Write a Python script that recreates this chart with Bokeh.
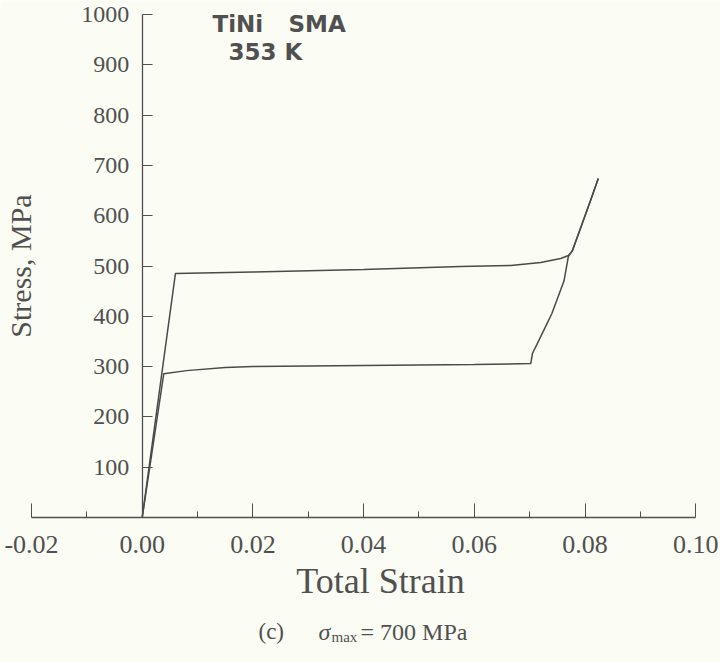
from bokeh.plotting import figure
from bokeh.models import LinearAxis, FixedTicker, Label, Range1d
from bokeh.embed import file_html
from bokeh.resources import INLINE

# ---- data ----
load_strain = [0.0, 0.0060, 0.0200, 0.0400, 0.0575, 0.0666, 0.0720, 0.0756, 0.0770, 0.0777, 0.0810, 0.0824]
load_stress = [0, 485, 488, 493, 499, 501, 507, 515, 521, 530, 630, 674]

unload_strain = [0.0824, 0.0810, 0.0777, 0.0770, 0.0762, 0.0740, 0.0718, 0.0705, 0.0702,
                 0.0600, 0.0400, 0.0200, 0.0150, 0.0080, 0.0039, 0.0]
unload_stress = [674, 630, 530, 519, 470, 405, 355, 326, 306,
                 304, 302, 300, 298, 292, 286, 0]

x_ticks = [-0.02, 0.00, 0.02, 0.04, 0.06, 0.08, 0.10]
x_tick_labels = ["-0.02", "0.00", "0.02", "0.04", "0.06", "0.08", "0.10"]
x_minor_ticks = [-0.01, 0.01, 0.03, 0.05, 0.07, 0.09]
y_ticks = [100, 200, 300, 400, 500, 600, 700, 800, 900, 1000]
y_tick_labels = ["100", "200", "300", "400", "500", "600", "700", "800", "900", "1000"]

# ---- layout geometry (pixels) ----
W, H = 720, 662
X0_PX, Y0_PX = 141.7, 517.0        # where strain 0 / stress 0 sit
PX_PER_STRAIN = 5535.0
PX_PER_MPA = 0.503

def sx(px):
    return (px - X0_PX) / PX_PER_STRAIN

def sy(py):
    return (Y0_PX - py) / PX_PER_MPA

BG = "#fbfcf4"
INK = "#505050"
SERIF = "Liberation Serif"
SANS = "DejaVu Sans"

p = figure(width=W, height=H, output_backend="svg", toolbar_location=None,
           x_range=Range1d(sx(0), sx(W)), y_range=Range1d(sy(H), sy(0)),
           x_axis_location=None, y_axis_location=None,
           min_border_left=0, min_border_right=0, min_border_top=0, min_border_bottom=0)
p.background_fill_color = BG
p.border_fill_color = BG
p.outline_line_color = None
p.grid.visible = False

# bottom axis placed at stress = 0
xa = LinearAxis(fixed_location=0, bounds=(-0.02, 0.10))
xa.ticker = FixedTicker(ticks=x_ticks, minor_ticks=x_minor_ticks)
xa.major_label_overrides = {t: l for t, l in zip(x_ticks, x_tick_labels)}
xa.major_tick_in = 14
xa.major_tick_out = 0
xa.minor_tick_in = 6
xa.minor_tick_out = 0
xa.axis_line_color = INK
xa.major_tick_line_color = INK
xa.minor_tick_line_color = INK
xa.axis_line_width = 1.3
xa.major_label_text_font = SERIF
xa.major_label_text_font_size = "26px"
xa.major_label_text_color = INK
xa.major_label_standoff = 18
p.add_layout(xa, "below")

# left axis placed at strain = 0
ya = LinearAxis(fixed_location=0, bounds=(0, 1000))
ya.ticker = FixedTicker(ticks=y_ticks, minor_ticks=[])
ya.major_label_overrides = {t: l for t, l in zip(y_ticks, y_tick_labels)}
ya.major_tick_in = 10
ya.major_tick_out = 0
ya.minor_tick_in = 0
ya.minor_tick_out = 0
ya.axis_line_color = INK
ya.major_tick_line_color = INK
ya.axis_line_width = 1.3
ya.major_label_text_font = SERIF
ya.major_label_text_font_size = "24px"
ya.major_label_text_color = INK
ya.major_label_standoff = 13
ya.axis_label = "Stress, MPa"
ya.axis_label_text_font = SERIF
ya.axis_label_text_font_size = "30px"
ya.axis_label_text_font_style = "normal"
ya.axis_label_text_color = INK
ya.axis_label_standoff = 42
p.add_layout(ya, "left")

# curves
p.line(load_strain, load_stress, line_color="#4a4a4a", line_width=1.5)
p.line(unload_strain, unload_stress, line_color="#4a4a4a", line_width=1.5)

# x-axis title
p.add_layout(Label(x=sx(380), y=sy(580), text="Total Strain", text_font=SERIF,
                   text_font_size="36px", text_color=INK, text_align="center",
                   text_baseline="alphabetic"))

# annotations
for txt, px, py in [("TiNi", 212, 10), ("SMA", 288, 10), ("353 K", 228, 38)]:
    p.add_layout(Label(x=sx(px), y=sy(py), text=txt, text_font=SANS, text_font_style="bold",
                       text_font_size="23px", text_color=INK, text_align="left",
                       text_baseline="top"))

# caption
CAP_BASE = 631
p.add_layout(Label(x=sx(258), y=sy(CAP_BASE), text="(c)", text_font=SERIF, text_font_size="23px",
                   text_color=INK, text_align="left", text_baseline="alphabetic"))
p.add_layout(Label(x=sx(318), y=sy(CAP_BASE), text="σ", text_font=SERIF, text_font_style="italic",
                   text_font_size="24px", text_color=INK, text_align="left",
                   text_baseline="alphabetic"))
p.add_layout(Label(x=sx(331), y=sy(CAP_BASE + 5), text="max", text_font=SERIF, text_font_size="15px",
                   text_color=INK, text_align="left", text_baseline="alphabetic"))
p.add_layout(Label(x=sx(360), y=sy(CAP_BASE), text="= 700 MPa", text_font=SERIF,
                   text_font_size="24px", text_color=INK, text_align="left",
                   text_baseline="alphabetic"))

html = file_html(p, INLINE)
html = html.replace("<body>", '<body style="background:%s">' % BG, 1)
open("out.html", "w").write(html)
